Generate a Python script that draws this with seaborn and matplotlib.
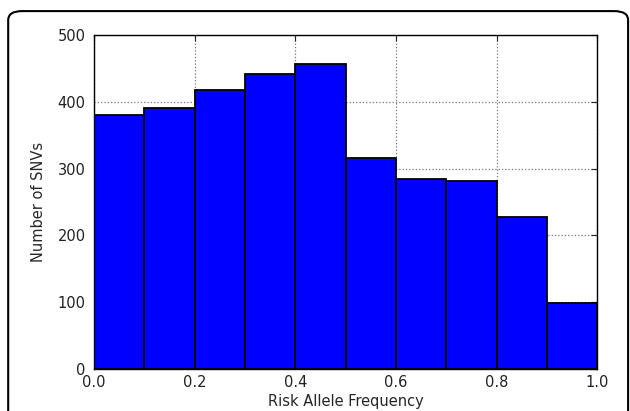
import matplotlib
matplotlib.use("Agg")
import matplotlib.pyplot as plt
from matplotlib.patches import FancyBboxPatch
import seaborn as sns
import numpy as np

# histogram data
bin_edges = [0.0, 0.1, 0.2, 0.3, 0.4, 0.5, 0.6, 0.7, 0.8, 0.9, 1.0]
counts = [380, 391, 418, 441, 457, 316, 284, 282, 227, 99]
x_ticks = [0.0, 0.2, 0.4, 0.6, 0.8, 1.0]
y_ticks = [0, 100, 200, 300, 400, 500]

sns.set_style("white")
plt.rcParams['font.family'] = ['DejaVu Sans']

fig = plt.figure(figsize=(6.3, 4.11), dpi=100)
ax = fig.add_axes([0.149, 0.102, 0.799, 0.813])

centers = (np.array(bin_edges[:-1]) + np.array(bin_edges[1:])) / 2
sns.histplot(x=centers, weights=counts, bins=bin_edges, color="#0000ff",
             alpha=1, edgecolor="black", linewidth=1.3, ax=ax)

ax.set_xlim(0, 1)
ax.set_ylim(0, 500)
ax.set_xticks(x_ticks)
ax.set_yticks(y_ticks)
ax.set_xticklabels([f"{t:.1f}" for t in x_ticks])
ax.grid(True, linestyle=":", color="#777777", linewidth=0.9)
ax.set_axisbelow(True)
ax.tick_params(direction="in", top=True, right=True, length=4, labelsize=10.5, colors="#222222")
ax.tick_params(axis="y", pad=6)
ax.tick_params(axis="x", pad=4)
for s in ax.spines.values():
    s.set_color("black")
    s.set_linewidth(1.0)
ax.set_xlabel("Risk Allele Frequency", fontsize=10.5, labelpad=3)
ax.set_ylabel("Number of SNVs", fontsize=10.5, labelpad=8)

# rounded frame around the figure (bottom runs off the image)
frame = FancyBboxPatch((0.013, -0.1), 0.984, 1.073, boxstyle="round,pad=0,rounding_size=0.022",
                       transform=fig.transFigure, fill=False, edgecolor="black",
                       linewidth=1.5, clip_on=False)
fig.patches.append(frame)

fig.savefig("out.png", dpi=100)
